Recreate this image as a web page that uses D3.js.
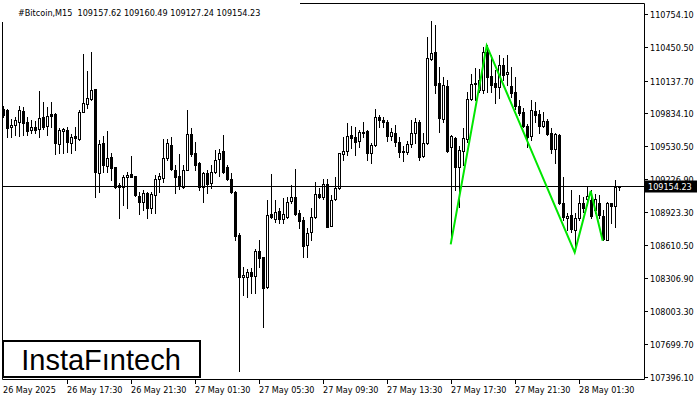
<!DOCTYPE html>
<html><head><meta charset="utf-8">
<script src="https://cdn.jsdelivr.net/npm/d3@7"></script>
<style>
html,body{margin:0;padding:0;background:#fff;}
svg{display:block;}
</style></head>
<body>
<svg id="c" width="700" height="400"></svg>
<script>
const symbolTitle = "#Bitcoin,M15";
const open = [109871,109865,109705,109723,109756,109855,109751,109679,109705,109692,109797,109717,109828,109828,109547,109668,109679,109562,109624,109596,109849,109920,109964,110059,109284,109556,109346,109427,109334,109170,109149,109242,109269,109254,109069,109016,109099,108955,109078,109223,109238,109418,109541,109309,109254,109155,109309,109643,109464,109377,109155,109279,109192,109293,109408,109485,109340,109223,109108,108707,108316,108321,108362,108331,108559,108501,108229,108899,108856,108932,108856,108871,109022,109056,108908,108846,108615,108732,108871,109084,109062,109177,108794,109038,109140,109455,109485,109633,109612,109580,109658,109670,109471,109541,109797,109772,109751,109621,109649,109566,109488,109473,109548,109649,109749,109442,109556,110337,110399,110112,109781,110087,109519,109610,109340,109485,109596,109964,110103,110050,110054,110404,110179,110117,110073,110281,110195,110087,110034,109906,109849,109717,109624,109858,109828,109717,109766,109654,109501,109633,109008,108862,108893,108754,108865,109004,109041,109031,108939,109001,108883,108661,109001,108976,109157.62];
const high = [109902,109874,109779,109803,109902,109895,109797,109772,109763,110041,109942,109895,109942,109837,109695,109695,109705,109643,109710,109865,110383,110226,110399,110062,109587,109624,109673,109464,109336,109186,109263,109293,109439,109258,109108,109124,109108,109108,109263,109279,109596,109596,109612,109355,109457,109355,109865,109695,109571,109380,109293,109309,109355,109494,109501,109633,109355,109284,109115,108723,108411,108393,108399,108578,108661,108504,109031,109272,109031,108955,109047,109062,109170,109318,108939,108871,108770,108955,109198,109140,109223,109223,109078,109242,109467,109618,109744,109717,109707,109679,109749,109679,109556,109871,109821,109803,109775,109695,109726,109615,109529,109582,109772,109788,109772,109649,110543,110689,110652,110266,110173,110142,109633,109618,109531,109695,110031,110198,110254,110244,110451,110462,110374,110235,110374,110346,110374,110263,110173,109957,109880,109735,109957,109942,109865,109849,109781,109695,109649,109638,109244,108908,109124,108911,109078,109062,109161,109124,109087,109078,108939,109013,109006,109217,109160.49];
const low = [109803,109618,109618,109633,109624,109633,109633,109654,109649,109618,109686,109633,109710,109455,109464,109469,109479,109464,109494,109587,109842,109880,109957,109056,109108,109293,109293,109217,109140,108862,108985,108955,109240,109069,108902,108939,108862,108908,108908,109108,109201,109402,109309,109094,109131,109140,109305,109439,109309,109124,109016,109094,109140,109279,109254,109284,109217,109094,108661,107453,108152,108131,108168,108173,108414,107859,108220,108862,108831,108816,108816,108862,109001,108893,108770,108507,108501,108661,108869,109047,109038,108781,108791,109031,109131,109402,109448,109510,109448,109525,109618,109402,109371,109536,109703,109710,109579,109587,109531,109425,109393,109455,109519,109556,109402,109432,109554,110327,110019,109658,109756,109479,108643,109124,108967,109355,109573,109953,109957,110031,110022,110031,110034,109929,109973,110142,110096,109985,109874,109818,109707,109525,109587,109756,109652,109705,109633,109464,109371,108999,108846,108754,108738,108560,108846,108923,108985,108865,108908,108862,108661,108657,108816,108782,109127.24];
const close = [109816,109701,109726,109772,109865,109742,109673,109705,109679,109788,109705,109812,109809,109556,109679,109686,109571,109618,109606,109849,109927,109973,110050,109293,109550,109355,109418,109325,109155,109149,109242,109263,109247,109078,109016,109094,108955,109084,109223,109254,109418,109562,109316,109247,109161,109309,109643,109455,109355,109149,109279,109180,109293,109402,109464,109293,109223,109108,108701,108321,108337,108362,108331,108559,108492,108220,108893,108871,108918,108856,108899,109010,109062,108902,108840,108608,108723,108871,109084,109062,109177,108784,109031,109145,109464,109485,109624,109608,109571,109658,109664,109471,109541,109797,109772,109749,109627,109658,109568,109473,109473,109548,109649,109749,109430,109559,110343,110390,110096,109793,110096,109485,109624,109340,109494,109603,109964,110103,110117,110142,110402,110173,110096,110080,110281,110189,110219,110019,109902,109840,109721,109618,109865,109818,109719,109766,109643,109501,109640,109004,108874,108883,108760,108865,109008,108962,109069,108879,109038,108893,108675,109001,108976,109155,109154.23];
const priceTicks = [110754.10,110450.50,110137.70,109834.10,109530.50,109226.90,108923.30,108610.50,108306.90,108003.30,107699.70,107396.10];
const timeTickIndex = [0,16,32,48,64,80,96,112,128,144];
const timeTickLabels = ["26 May 2025","26 May 17:30","26 May 21:30","27 May 01:30","27 May 05:30","27 May 09:30","27 May 13:30","27 May 17:30","27 May 21:30","28 May 01:30"];
const patternIndex = [112,121,143,147,150];
const patternPrice = [108621,110460,108547,109115,108655];
const lastPrice = 109154.23;

const svg = d3.select("#c");
const font = "'DejaVu Sans Condensed','Noto Sans',sans-serif";
const L = 2, R = 644, T = 3, B = 379;

const x = d3.scaleLinear().domain([0, 154]).range([2.7, 618.7]);
const y = d3.scaleLinear().domain([107396.1, 110754.1]).range([376.66, 13.92]);
const px = v => Math.round(x(v)) + 0.5;
const py = v => Math.round(y(v));

const data = open.map((o, i) => ({i, o, h: high[i], l: low[i], c: close[i]}));

// candles
const g = svg.append("g");
g.selectAll("line.w").data(data).join("line")
  .attr("x1", d => px(d.i)).attr("x2", d => px(d.i))
  .attr("y1", d => py(d.h)).attr("y2", d => py(d.l) + 1)
  .attr("stroke", "#000").attr("stroke-width", 1);
g.selectAll("rect.b").data(data).join("rect")
  .attr("x", d => d.c >= d.o ? px(d.i) - 1 : px(d.i) - 1.5)
  .attr("width", d => d.c >= d.o ? 2 : 3)
  .attr("y", d => {
    const t = Math.min(py(d.o), py(d.c));
    return d.c >= d.o ? t + 0.5 : t;
  })
  .attr("height", d => {
    const h = Math.abs(py(d.o) - py(d.c));
    return d.c >= d.o ? Math.max(h, 1) : Math.max(h + 1, 1);
  })
  .attr("fill", d => d.c >= d.o ? "#fff" : "#000")
  .attr("stroke", d => d.c >= d.o ? "#000" : "none")
  .attr("stroke-width", 1);

// current price line
const ly = Math.floor(y(lastPrice)) + 0.5;
svg.append("line").attr("x1", L).attr("x2", R).attr("y1", ly).attr("y2", ly)
  .attr("stroke", "#000").attr("stroke-width", 1);

// pattern line
const pts = patternIndex.map((d, k) => [x(d), y(patternPrice[k])]);
svg.append("path").attr("d", d3.line()(pts))
  .attr("fill", "none").attr("stroke", "#00e600").attr("stroke-width", 2);

// frame
svg.append("path").attr("d", `M${L+0.5},${B+0.5}V${T+0.5}H${R+0.5}V${B+0.5}H${L+0.5}`)
  .attr("fill", "none").attr("stroke", "#000").attr("stroke-width", 1);

// header (white backing)
svg.append("rect").attr("x", 0).attr("y", 0).attr("width", 300).attr("height", 22).attr("fill", "#fff");
svg.append("text").attr("x", 18).attr("y", 16)
  .attr("font-family", font).attr("font-size", 9).attr("fill", "#000")
  .attr("xml:space", "preserve")
  .text(symbolTitle + "  " + [open[154], high[154], low[154], close[154]].map(v => v.toFixed(2)).join(" "));

// y axis
const ya = svg.append("g");
priceTicks.forEach(v => {
  const yy = Math.round(y(v)) + 0.5;
  ya.append("line").attr("x1", R).attr("x2", R + 4).attr("y1", yy).attr("y2", yy).attr("stroke", "#000");
  ya.append("text").attr("x", 650).attr("y", yy).attr("dy", "0.35em")
    .attr("font-family", font).attr("font-size", 9).attr("fill", "#000")
    .text(v.toFixed(2));
});
// current price label
const lyC = y(lastPrice);
svg.append("rect").attr("x", 645).attr("y", Math.round(lyC) - 6.5).attr("width", 52).attr("height", 12).attr("fill", "#000");
svg.append("text").attr("x", 648).attr("y", Math.round(lyC)).attr("dy", "0.35em")
  .attr("font-family", font).attr("font-size", 9).attr("fill", "#fff")
  .text(lastPrice.toFixed(2));

// x axis
const xa = svg.append("g");
timeTickIndex.forEach((idx, k) => {
  const xx = px(idx);
  if (k > 0) xa.append("line").attr("x1", xx).attr("x2", xx).attr("y1", B).attr("y2", B + 5).attr("stroke", "#000");
  xa.append("text").attr("x", k === 0 ? 3 : xx - 0.5).attr("y", 393)
    .attr("font-family", font).attr("font-size", 9).attr("fill", "#000")
    .text(timeTickLabels[k]);
});

// logo
svg.append("rect").attr("x", 3).attr("y", 341).attr("width", 197).attr("height", 36)
  .attr("fill", "#fff").attr("stroke", "#000").attr("stroke-width", 2);
svg.append("text").attr("x", 101).attr("y", 370).attr("text-anchor", "middle")
  .attr("font-family", "'Liberation Sans',Arial,sans-serif").attr("font-size", 29).attr("fill", "#000")
  .text("InstaFıntech");
</script>
</body></html>
